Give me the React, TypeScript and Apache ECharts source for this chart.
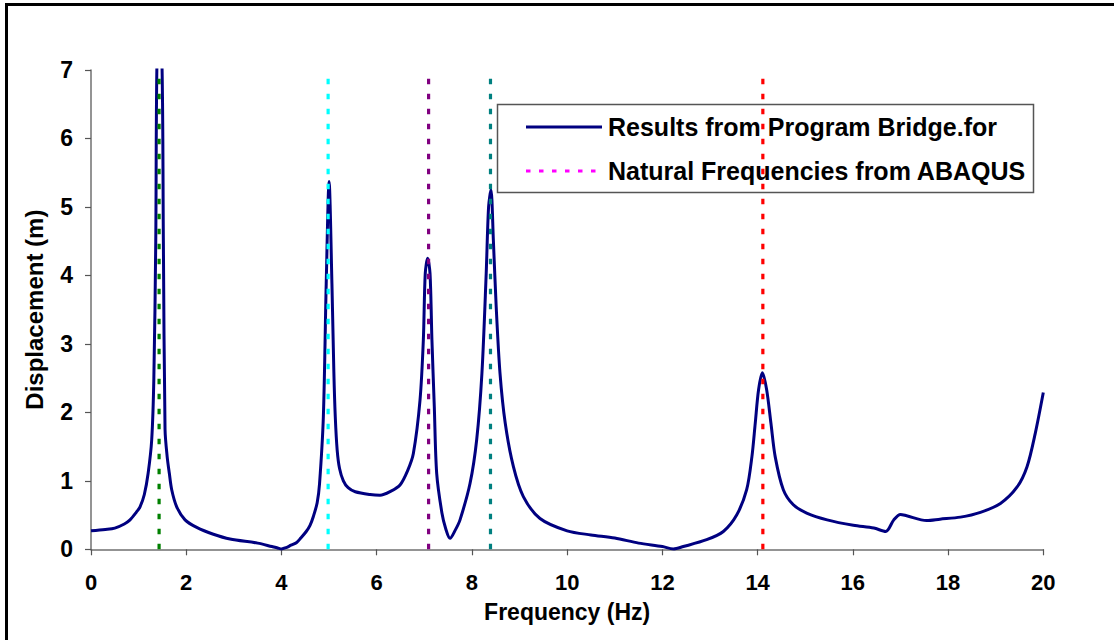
import React, { useEffect, useRef } from "react";
import * as echarts from "echarts";

// Frequency response of the bridge model (Hz, m)
const frequency = [
  0.0, 0.3, 0.5, 0.7, 0.82, 0.95, 1.03, 1.12, 1.2, 1.275, 1.32, 1.36, 1.385, 1.43,
  1.49, 1.52, 1.555, 1.6, 1.645, 1.695, 1.8, 1.975, 2.22, 2.57, 2.92, 3.5, 3.8, 3.92,
  4.0, 4.1, 4.2, 4.32, 4.4, 4.52, 4.6, 4.67, 4.75, 4.8, 4.88, 4.94, 5.0, 5.06, 5.1,
  5.13, 5.17, 5.22, 5.3, 5.4, 5.55, 5.86, 6.07, 6.3, 6.49, 6.65, 6.77, 6.91, 6.98,
  7.02, 7.07, 7.12, 7.16, 7.21, 7.26, 7.37, 7.45, 7.54, 7.65, 7.75, 7.96, 8.1, 8.21,
  8.3, 8.35, 8.4, 8.45, 8.51, 8.59, 8.7, 8.87, 9.08, 9.43, 10.0, 10.5, 11.0, 11.5,
  12.0, 12.23, 12.44, 12.93, 13.28, 13.56, 13.77, 13.88, 13.95, 14.02, 14.1, 14.19,
  14.28, 14.37, 14.54, 14.75, 15.03, 15.46, 16.01, 16.44, 16.69, 16.86, 17.0, 17.13,
  17.55, 17.83, 18.26, 18.68, 19.1, 19.45, 19.66, 19.83, 20.0,
];
const displacement = [
  0.27, 0.29, 0.31, 0.37, 0.43, 0.54, 0.62, 0.8, 1.11, 1.6, 2.5, 4.5, 7.1, 7.3,
  7.1, 4.5, 1.75, 1.35, 1.11, 0.87, 0.62, 0.43, 0.32, 0.22, 0.15, 0.09, 0.04, 0.02,
  0.005, 0.025, 0.06, 0.1, 0.16, 0.26, 0.35, 0.48, 0.68, 0.96, 1.94, 3.88, 5.37, 3.88, 2.6,
  1.94, 1.45, 1.18, 1.0, 0.9, 0.84, 0.8, 0.79, 0.85, 0.94, 1.15, 1.4, 2.18, 3.06,
  4.03, 4.25, 4.03, 3.06, 2.08, 1.11, 0.53, 0.3, 0.16, 0.28, 0.43, 0.96, 1.6, 2.57,
  4.03, 5.0, 5.25, 4.52, 3.54, 2.57, 1.84, 1.21, 0.77, 0.45, 0.27, 0.21, 0.165, 0.09,
  0.04, 0.005, 0.04, 0.14, 0.26, 0.5, 0.87, 1.35, 1.84, 2.33, 2.58, 2.33,
  1.84, 1.35, 0.87, 0.65, 0.53, 0.43, 0.35, 0.31, 0.26, 0.43, 0.51, 0.49,
  0.42, 0.44, 0.47, 0.54, 0.67, 0.91, 1.21, 1.69, 2.29,
];

// Natural frequencies from the ABAQUS modal analysis (Hz)
const naturalFrequencies = [1.43, 4.98, 7.09, 8.39, 14.11];
const naturalLineColors = ["#008000", "#00FFFF", "#800080", "#008080", "#FF0000"];

const xTicks = { min: 0, max: 20, interval: 2 };
const yTicks = { min: 0, max: 7, interval: 1 };

const seriesNames = ["Results from Program Bridge.for", "Natural Frequencies from ABAQUS"];

const FONT = "'Liberation Sans', Arial, Helvetica, sans-serif";

export default function App() {
  const ref = useRef<HTMLDivElement>(null);

  useEffect(() => {
    document.body.style.margin = "0";
    if (!ref.current) return;
    const chart = echarts.init(ref.current, undefined, { renderer: "svg" });

    const responseSeries = {
      name: seriesNames[0],
      type: "line",
      data: frequency.map((f, i) => [f, displacement[i]]),
      showSymbol: false,
      smooth: 0.3,
      clip: true,
      lineStyle: { color: "#000080", width: 3 },
      z: 2,
    };

    const modeSeries = naturalFrequencies.map((f, i) => ({
      name: seriesNames[1],
      type: "line",
      data: [
        [f, yTicks.min],
        [f, yTicks.max],
      ],
      showSymbol: false,
      lineStyle: { color: naturalLineColors[i], width: 3.2, type: [5.5, 9.5] },
      z: 3,
    }));

    const axisLine = { show: true, lineStyle: { color: "#707070", width: 1.5 } };
    const axisTick = { show: true, inside: false, length: 6, lineStyle: { color: "#555", width: 1.2 } };

    chart.setOption({
      animation: false,
      backgroundColor: "#ffffff",
      grid: {
        left: 91,
        right: 70.7,
        top: 70,
        bottom: 90.7,
        containLabel: false,
        outerBoundsMode: "none",
      },
      xAxis: {
        type: "value",
        ...xTicks,
        axisLine,
        axisTick,
        splitLine: { show: false },
        axisLabel: {
          color: "#000",
          fontFamily: FONT,
          fontWeight: "bold",
          fontSize: 22,
          lineHeight: 18,
          margin: 24.5,
        },
        name: "Frequency (Hz)",
        nameLocation: "middle",
        nameGap: 53,
        nameMoveOverlap: false,
        nameTextStyle: {
          color: "#000",
          fontFamily: FONT,
          fontWeight: "bold",
          fontSize: 23,
          lineHeight: 20,
        },
      },
      yAxis: {
        type: "value",
        ...yTicks,
        axisLine,
        axisTick,
        splitLine: { show: false },
        axisLabel: {
          color: "#000",
          fontFamily: FONT,
          fontWeight: "bold",
          fontSize: 23,
          margin: 18,
        },
        name: "Displacement (m)",
        nameLocation: "middle",
        nameGap: 45,
        nameMoveOverlap: false,
        nameTextStyle: { color: "#000", fontFamily: FONT, fontWeight: "bold", fontSize: 24 },
      },
      series: [responseSeries, ...modeSeries],
      graphic: [
        // outer chart frame
        {
          type: "rect",
          shape: { x: 6.5, y: 4.5, width: 1300, height: 800 },
          style: { fill: "none", stroke: "#000", lineWidth: 3 },
          silent: true,
          z: 10,
        },
        // legend box
        {
          type: "group",
          z: 20,
          children: [
            {
              type: "rect",
              shape: { x: 497.5, y: 104.5, width: 536, height: 88 },
              style: { fill: "#fff", stroke: "#555", lineWidth: 1.5 },
            },
            {
              type: "line",
              shape: { x1: 526, y1: 127, x2: 602, y2: 127 },
              style: { stroke: "#000080", lineWidth: 3 },
            },
            {
              type: "text",
              x: 608,
              y: 127,
              style: {
                text: seriesNames[0],
                fill: "#000",
                font: `bold 25px ${FONT}`,
                verticalAlign: "middle",
                align: "left",
              },
            },
            {
              type: "line",
              shape: { x1: 526, y1: 171, x2: 602, y2: 171 },
              style: { stroke: "#FF00FF", lineWidth: 3, lineDash: [4.5, 8.5] },
            },
            {
              type: "text",
              x: 608,
              y: 171,
              style: {
                text: seriesNames[1],
                fill: "#000",
                font: `bold 25px ${FONT}`,
                verticalAlign: "middle",
                align: "left",
              },
            },
          ],
        },
      ],
    });

    return () => {
      chart.dispose();
    };
  }, []);

  return <div ref={ref} style={{ width: 1114, height: 640 }} />;
}
